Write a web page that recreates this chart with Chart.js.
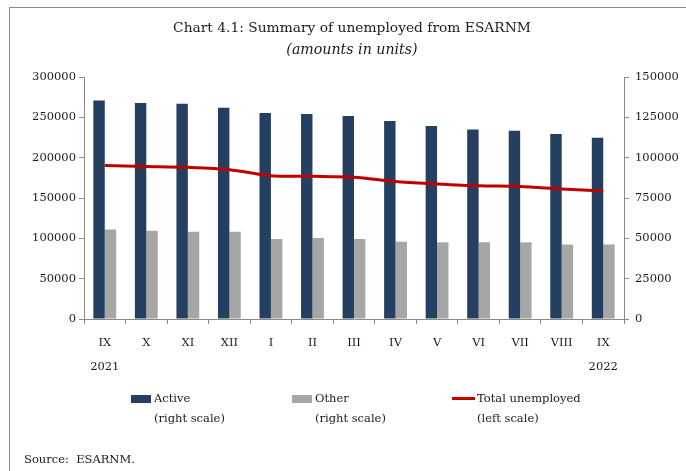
<!DOCTYPE html>
<html>
<head>
<meta charset="utf-8">
<script src="https://cdn.jsdelivr.net/npm/chart.js@4"></script>
<style>
  html, body { margin: 0; padding: 0; background: #fff; }
  body { width: 686px; height: 471px; position: relative; overflow: hidden; font-family: "DejaVu Serif", serif; color: #1a1a1a; }
  #frame { position: absolute; left: 9px; top: 7px; width: 690px; height: 480px; border-left: 1px solid #8a8a8a; border-top: 1px solid #8a8a8a; }
  #wrap { position: absolute; left: 0; top: 0; width: 686px; height: 471px; }
  .title { position: absolute; left: 0; width: 704px; text-align: center; white-space: nowrap; }
  #t1 { top: 19px; font-size: 13.8px; }
  #t2 { top: 41px; font-size: 14.2px; font-style: italic; }
  .lg { position: absolute; font-size: 11.5px; line-height: 20px; white-space: nowrap; }
  .sw { position: absolute; }
  #src { position: absolute; left: 24px; top: 452px; font-size: 11.5px; }
</style>
</head>
<body>
<div id="frame"></div>
<div id="wrap"><canvas id="c" width="686" height="471"></canvas></div>
<div class="title" id="t1">Chart 4.1: Summary of unemployed from ESARNM</div>
<div class="title" id="t2">(amounts in units)</div>

<div class="sw" style="left:131px; top:395px; width:20px; height:8px; background:#243F60"></div>
<div class="lg" style="left:154px; top:388px">Active<br>(right scale)</div>
<div class="sw" style="left:292px; top:395px; width:20px; height:8px; background:#A6A6A6"></div>
<div class="lg" style="left:315px; top:388px">Other<br>(right scale)</div>
<div class="sw" style="left:452px; top:397px; width:23px; height:3px; background:#C00000"></div>
<div class="lg" style="left:477px; top:388px">Total unemployed<br>(left scale)</div>
<div id="src">Source:&nbsp; ESARNM.</div>

<script>
const months = [['IX', '2021'], 'X', 'XI', 'XII', 'I', 'II', 'III', 'IV', 'V', 'VI', 'VII', 'VIII', ['IX', '2022']];
const active = [135500, 133900, 133400, 131000, 127700, 127100, 125800, 122700, 119600, 117400, 116700, 114700, 112400];
const other = [55400, 54700, 54100, 54100, 49600, 50200, 49600, 47900, 47500, 47500, 47500, 46200, 46200];
const total = [190400, 189200, 188000, 185100, 177500, 176900, 175700, 170400, 167500, 165200, 164300, 161200, 158700];

const tickFont = { family: 'DejaVu Serif', size: 11.5 };
const axisGrey = '#8a8a8a';
const plain = (v) => String(v);

new Chart(document.getElementById('c'), {
    type: 'bar',
    data: {
        labels: months,
        datasets: [
            {
                type: 'line',
                label: 'Total unemployed',
                data: total,
                yAxisID: 'y',
                borderColor: '#C00000',
                borderWidth: 3,
                pointRadius: 0,
                tension: 0.3,
                order: 0,
            },
            {
                label: 'Active',
                data: active,
                yAxisID: 'y1',
                backgroundColor: '#243F60',
                categoryPercentage: 0.55,
                barPercentage: 1,
                order: 1,
            },
            {
                label: 'Other',
                data: other,
                yAxisID: 'y1',
                backgroundColor: '#A6A6A6',
                categoryPercentage: 0.55,
                barPercentage: 1,
                order: 1,
            },
        ],
    },
    options: {
        responsive: false,
        animation: false,
        layout: { padding: { top: 77, left: 0, right: 0, bottom: 0 } },
        plugins: { legend: { display: false }, tooltip: { enabled: false } },
        scales: {
            x: {
                offset: true,
                grid: { offset: true, drawOnChartArea: false, tickLength: 5, color: axisGrey },
                border: { color: axisGrey },
                ticks: { font: { ...tickFont, lineHeight: '24px' }, color: '#1a1a1a', padding: 7, maxRotation: 0, autoSkip: false },
                afterFit: (s) => { s.height = 152; },
            },
            y: {
                position: 'left',
                min: 0,
                max: 300000,
                grid: { drawOnChartArea: false, tickLength: 5, color: axisGrey },
                border: { color: axisGrey },
                ticks: { stepSize: 50000, font: tickFont, color: '#1a1a1a', padding: 3, callback: plain },
                afterFit: (s) => { s.width = 84; },
            },
            y1: {
                position: 'right',
                min: 0,
                max: 150000,
                grid: { drawOnChartArea: false, tickLength: 5, color: axisGrey },
                border: { color: axisGrey },
                ticks: { stepSize: 25000, font: tickFont, color: '#1a1a1a', padding: 6, callback: plain },
                afterFit: (s) => { s.width = 62; },
            },
        },
    },
});
</script>
</body>
</html>
